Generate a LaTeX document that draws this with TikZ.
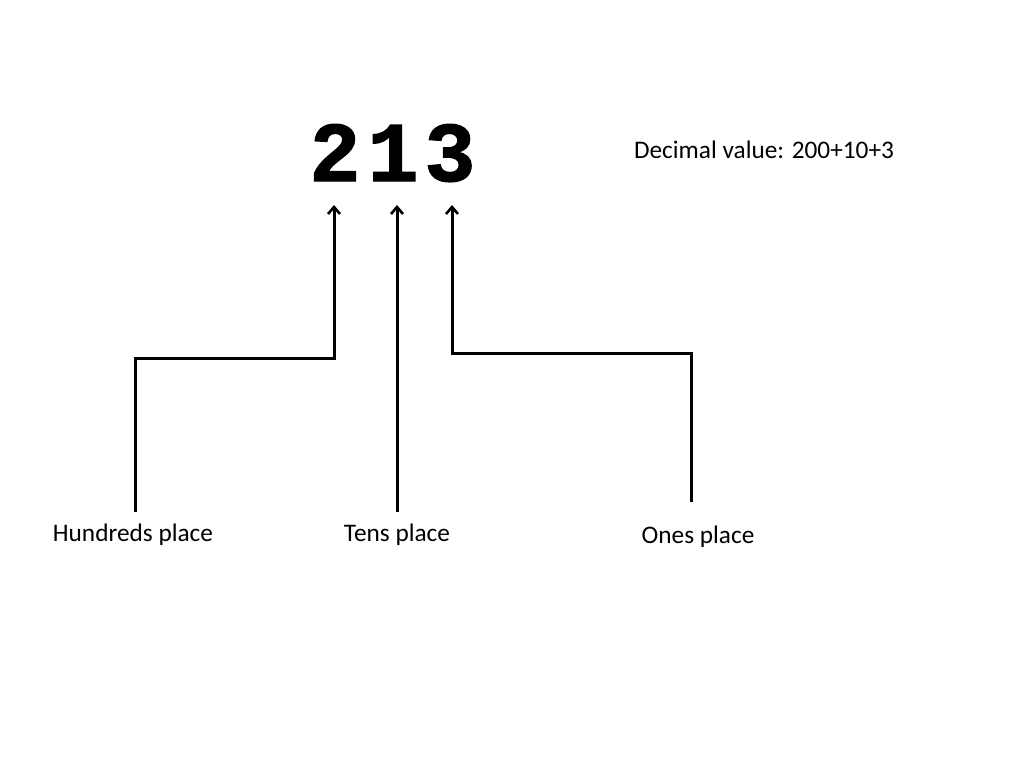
\documentclass[tikz,border=0pt]{standalone}
\usepackage{fontspec}
\setmainfont{Carlito}
\newfontfamily\monob{Liberation Mono}[BoldFeatures={FakeBold=1.5}]
\usetikzlibrary{arrows.meta}
\begin{document}
\begin{tikzpicture}[x=1pt,y=-1pt,
  conn/.style={line width=3pt,line join=miter,-{Straight Barb[length=7pt,width=12pt,line width=2.6pt]}},
  digit/.style={anchor=base,inner sep=0pt,font=\monob\bfseries\fontsize{85}{100}\selectfont},
  lbl/.style={font=\fontsize{25.3}{30}\selectfont,anchor=base,inner sep=0pt}]
\useasboundingbox[fill=white] (0,0) rectangle (1024,768);
\node[digit] (d2) at (335,181) {2};
\node[digit] (d1) at (393,181) {1};
\node[digit] (d3) at (450,181) {3};
\coordinate (t2) at (334,205);
\coordinate (t1) at (397,205);
\coordinate (t3) at (452,205);
\node[lbl] (hund) at (133,541) {Hundreds place};
\node[lbl] (tens) at (397,541) {Tens place};
\node[lbl] (ones) at (698,543) {Ones place};
\node[lbl] (dec) at (764,158) {Decimal value: 200+10+3};
\coordinate (hs) at (135,512);
\coordinate (ts) at (397,512);
\coordinate (os) at (691,502);
\draw[conn] (hs) -- (135,358) -| (t2);
\draw[conn] (ts) -- (t1);
\draw[conn] (os) -- (691,353) -| (t3);
\end{tikzpicture}
\end{document}
